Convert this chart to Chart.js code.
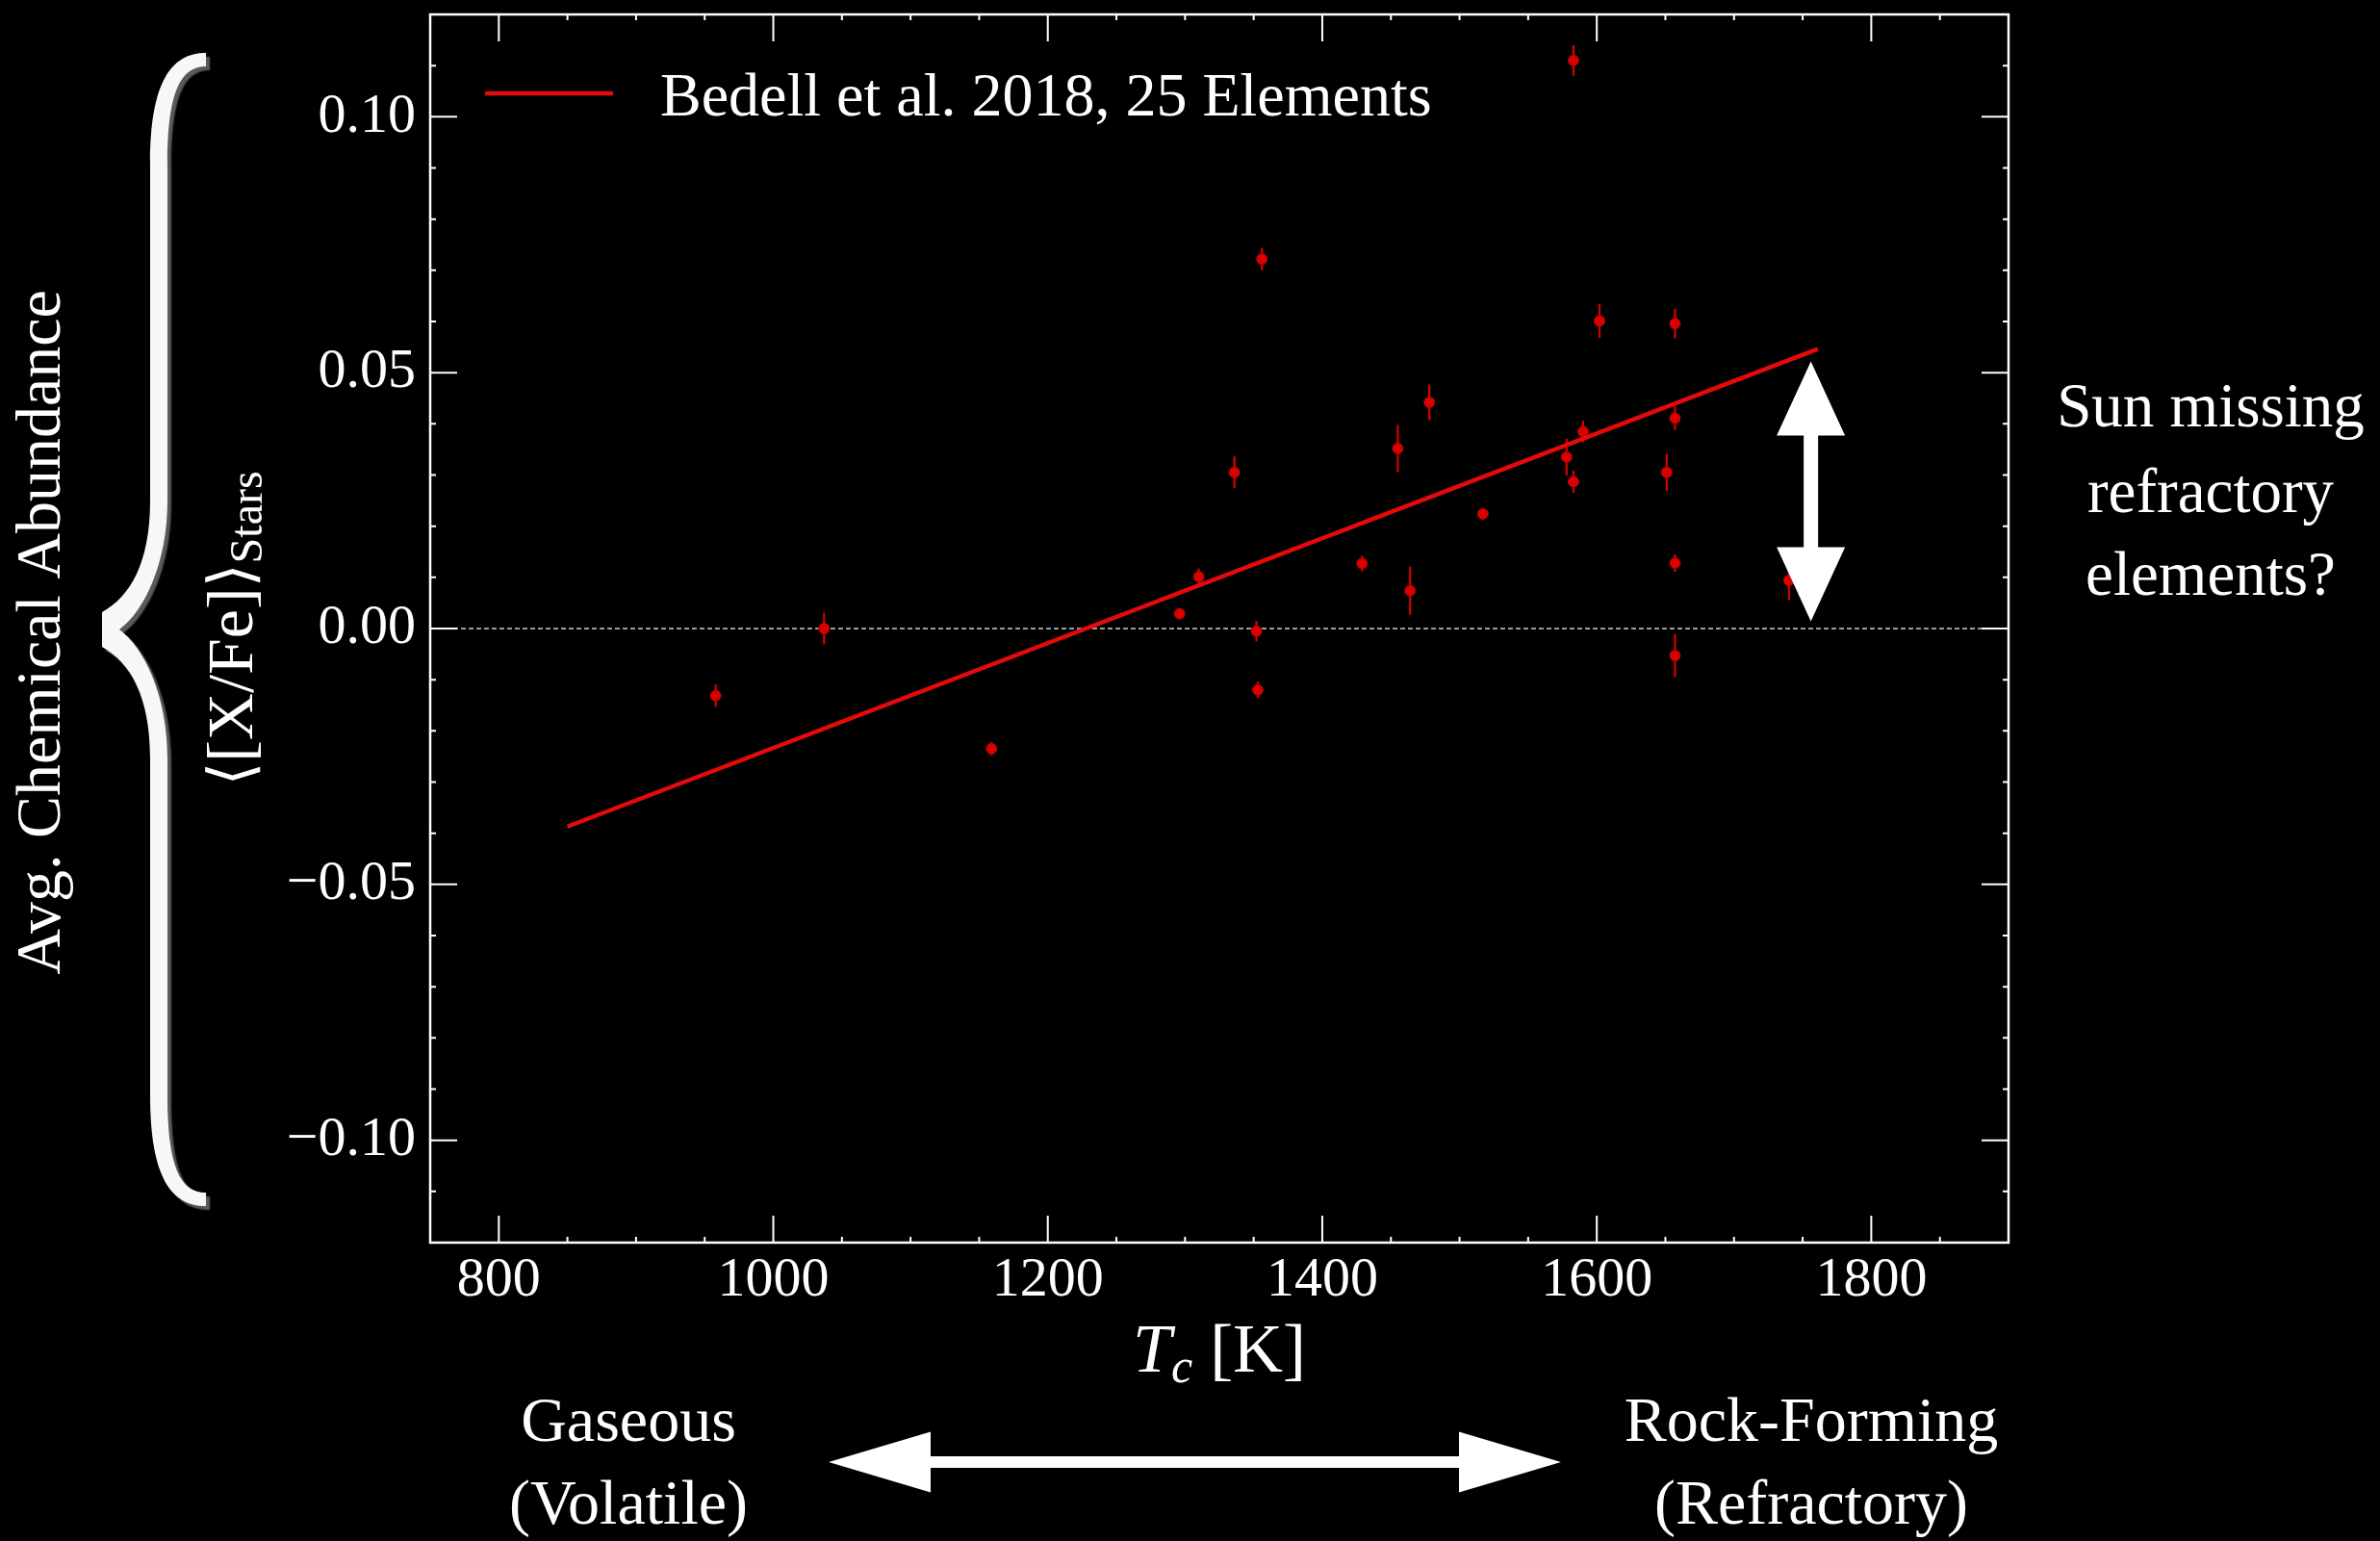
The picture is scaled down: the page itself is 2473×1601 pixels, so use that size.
<!DOCTYPE html>
<html>
<head>
<meta charset="utf-8">
<script src="https://cdn.jsdelivr.net/npm/chart.js@4.4.1/dist/chart.umd.min.js"></script>
<style>
  html, body { margin: 0; padding: 0; background: #000; }
  #wrap { width: 2473px; height: 1601px; }
</style>
</head>
<body>
<div id="wrap"><canvas id="chart"></canvas></div>
<script>
// condensation temperature of each element [K]
const tcValues = [958, 1037, 1159, 1296, 1310, 1336, 1352, 1353, 1356, 1429, 1455, 1464, 1478,
  1517, 1578, 1583, 1583, 1590, 1602, 1651, 1657, 1657, 1657, 1657, 1740];
// <[X/Fe]> averaged over the stars
const meanAbundance = [-0.0131, 0.0000, -0.0235, 0.0029, 0.0101, 0.0305, -0.0005, -0.0120, 0.0722,
  0.0127, 0.0352, 0.0074, 0.0442, 0.0224, 0.0335, 0.0287, 0.1110, 0.0385, 0.0601, 0.0305,
  0.0596, 0.0411, 0.0128, -0.0053, 0.0094];
const abundanceErr = [0.0022, 0.0031, 0.0013, 0.0008, 0.0016, 0.0031, 0.0020, 0.0016, 0.0022,
  0.0015, 0.0046, 0.0047, 0.0035, 0.0010, 0.0036, 0.0022, 0.0030, 0.0021, 0.0033, 0.0036,
  0.0029, 0.0023, 0.0017, 0.0042, 0.0038];

// linear trend (end points)
const fitTc = [850, 1761];
const fitAbundance = [-0.0387, 0.0546];

const xTickValues = [800, 1000, 1200, 1400, 1600, 1800];
const yTickValues = [-0.10, -0.05, 0.00, 0.05, 0.10];

const legendLabel = 'Bedell et al. 2018, 25 Elements';

const SERIF = '"Liberation Serif", "DejaVu Serif", serif';
const lineRed = '#e40a0a';
const pointRed = '#d90000';

function font(size, style, family) {
  return (style ? style + ' ' : '') + size + 'px ' + (family || SERIF);
}

// draw pieces of text (italic / subscript) centred on cx
function drawRuns(ctx, runs, cx, baseline) {
  let total = 0;
  runs.forEach(r => { ctx.font = font(r.size, r.style, r.family); r.w = ctx.measureText(r.text).width; total += r.w; });
  let xx = cx - total / 2;
  ctx.textAlign = 'left';
  ctx.textBaseline = 'alphabetic';
  runs.forEach(r => {
    ctx.font = font(r.size, r.style, r.family);
    ctx.fillText(r.text, xx, baseline + (r.dy || 0));
    xx += r.w;
  });
}

function doubleArrow(ctx, x1, y1, x2, y2, shaft, headW, headL) {
  const len = Math.hypot(x2 - x1, y2 - y1);
  ctx.save();
  ctx.translate(x1, y1);
  ctx.rotate(Math.atan2(y2 - y1, x2 - x1));
  ctx.beginPath();
  ctx.moveTo(0, 0);
  ctx.lineTo(headL, -headW / 2);
  ctx.lineTo(headL, -shaft / 2);
  ctx.lineTo(len - headL, -shaft / 2);
  ctx.lineTo(len - headL, -headW / 2);
  ctx.lineTo(len, 0);
  ctx.lineTo(len - headL, headW / 2);
  ctx.lineTo(len - headL, shaft / 2);
  ctx.lineTo(headL, shaft / 2);
  ctx.lineTo(headL, headW / 2);
  ctx.closePath();
  ctx.fillStyle = '#fff';
  ctx.fill();
  ctx.restore();
}

function drawBrace(ctx) {
  ctx.save();
  ctx.shadowColor = '#5a5a5a';
  ctx.shadowOffsetX = 4;
  ctx.shadowOffsetY = 4;
  ctx.shadowBlur = 1.5;
  ctx.fillStyle = '#f7f7f7';
  ctx.beginPath();
  ctx.moveTo(214, 55);
  ctx.bezierCurveTo(178, 55, 156, 85, 156, 170);
  ctx.lineTo(156, 520);
  ctx.bezierCurveTo(156, 585, 135, 620, 106, 636);
  ctx.lineTo(106, 672);
  ctx.bezierCurveTo(135, 688, 156, 723, 156, 788);
  ctx.lineTo(156, 1138);
  ctx.bezierCurveTo(156, 1223, 178, 1253, 214, 1253);
  ctx.lineTo(214, 1239);
  ctx.bezierCurveTo(188, 1239, 174, 1213, 174, 1138);
  ctx.lineTo(174, 788);
  ctx.bezierCurveTo(174, 723, 150, 673, 124, 654);
  ctx.bezierCurveTo(150, 635, 174, 585, 174, 520);
  ctx.lineTo(174, 170);
  ctx.bezierCurveTo(174, 95, 188, 69, 214, 69);
  ctx.closePath();
  ctx.fill();
  ctx.restore();
}

const decorations = {
  id: 'decorations',
  beforeDatasetsDraw(chart) {
    const { ctx, chartArea: a, scales: { x, y } } = chart;
    ctx.save();
    // dashed zero line
    const y0 = y.getPixelForValue(0);
    ctx.strokeStyle = '#d0d0d0';
    ctx.lineWidth = 1.5;
    ctx.setLineDash([5, 3]);
    ctx.beginPath();
    ctx.moveTo(a.left, y0);
    ctx.lineTo(a.right, y0);
    ctx.stroke();
    ctx.setLineDash([]);
    // error bars
    ctx.strokeStyle = pointRed;
    ctx.lineWidth = 2.2;
    ctx.beginPath();
    tcValues.forEach((t, i) => {
      const px = x.getPixelForValue(t);
      ctx.moveTo(px, y.getPixelForValue(meanAbundance[i] - abundanceErr[i]));
      ctx.lineTo(px, y.getPixelForValue(meanAbundance[i] + abundanceErr[i]));
    });
    ctx.stroke();
    ctx.restore();
  },
  afterDatasetsDraw(chart) {
    const { ctx, scales: { x, y } } = chart;
    const ax = x.getPixelForValue(1756);
    doubleArrow(ctx, ax, y.getPixelForValue(0.0522), ax, y.getPixelForValue(0.0014), 15, 71, 77);
  },
  afterDraw(chart) {
    const { ctx, chartArea: a, scales: { x, y } } = chart;
    ctx.save();
    // frame + inward ticks on all four sides
    ctx.strokeStyle = '#fff';
    ctx.lineWidth = 2.5;
    ctx.strokeRect(a.left, a.top, a.right - a.left, a.bottom - a.top);
    ctx.lineWidth = 2;
    ctx.beginPath();
    for (let v = 800; v < 1900; v += 50) {
      const len = v % 200 === 0 ? 28 : 6;
      const px = x.getPixelForValue(v);
      ctx.moveTo(px, a.bottom); ctx.lineTo(px, a.bottom - len);
      ctx.moveTo(px, a.top); ctx.lineTo(px, a.top + len);
    }
    for (let k = -11; k <= 11; k++) {
      const len = k % 5 === 0 ? 28 : 6;
      const py = y.getPixelForValue(k / 100);
      ctx.moveTo(a.left, py); ctx.lineTo(a.left + len, py);
      ctx.moveTo(a.right, py); ctx.lineTo(a.right - len, py);
    }
    ctx.stroke();

    // legend
    ctx.strokeStyle = lineRed;
    ctx.lineWidth = 4.5;
    ctx.beginPath();
    ctx.moveTo(a.left + 57, 97);
    ctx.lineTo(a.left + 190, 97);
    ctx.stroke();
    ctx.fillStyle = '#fff';
    ctx.font = font(64);
    ctx.textAlign = 'left';
    ctx.textBaseline = 'alphabetic';
    ctx.fillText(chart.data.datasets[1].label, a.left + 239, 120);

    // axis titles
    drawRuns(ctx, [
      { text: 'T', size: 72, style: 'italic' },
      { text: 'c', size: 50, style: 'italic', dy: 11 },
      { text: ' [K]', size: 72 }
    ], (a.left + a.right) / 2, 1425);

    ctx.save();
    ctx.translate(262, y.getPixelForValue(0));
    ctx.rotate(-Math.PI / 2);
    drawRuns(ctx, [
      { text: '\u27E8', size: 64, family: '"DejaVu Serif", "DejaVu Sans", serif' },
      { text: '[X/Fe]', size: 68 },
      { text: '\u27E9', size: 64, family: '"DejaVu Serif", "DejaVu Sans", serif' },
      { text: 'Stars', size: 48, dy: 10 }
    ], 0, 0);
    ctx.restore();

    ctx.save();
    ctx.translate(62, 657);
    ctx.rotate(-Math.PI / 2);
    drawRuns(ctx, [{ text: 'Avg. Chemical Abundance', size: 66 }], 0, 0);
    ctx.restore();

    drawBrace(ctx);

    // right-hand note
    ctx.fillStyle = '#fff';
    ctx.textAlign = 'center';
    ctx.font = font(65);
    ctx.fillText('Sun missing', 2297, 443);
    ctx.fillText('refractory', 2297, 532);
    ctx.fillText('elements?', 2297, 618);

    // bottom labels + arrow
    ctx.font = font(66);
    ctx.fillText('Gaseous', 653, 1497);
    ctx.fillText('(Volatile)', 653, 1583);
    ctx.fillText('Rock-Forming', 1882, 1497);
    ctx.fillText('(Refractory)', 1882, 1583);
    doubleArrow(ctx, 861, 1519, 1622, 1519, 12, 63, 106);
    ctx.restore();
  }
};

Chart.defaults.color = '#fff';
Chart.defaults.font.family = SERIF;

new Chart(document.getElementById('chart'), {
  type: 'scatter',
  data: {
    datasets: [
      {
        label: 'Elements',
        data: tcValues.map((t, i) => ({ x: t, y: meanAbundance[i] })),
        backgroundColor: pointRed,
        borderColor: '#b80000',
        borderWidth: 1,
        pointRadius: 5.5,
        order: 2
      },
      {
        label: legendLabel,
        type: 'line',
        data: fitTc.map((t, i) => ({ x: t, y: fitAbundance[i] })),
        borderColor: lineRed,
        borderWidth: 4.5,
        pointRadius: 0,
        showLine: true,
        fill: false,
        order: 1
      }
    ]
  },
  options: {
    responsive: true,
    maintainAspectRatio: false,
    animation: false,
    layout: { padding: { left: 0, right: 386, top: 15, bottom: 0 } },
    plugins: { legend: { display: false }, tooltip: { enabled: false } },
    scales: {
      x: {
        type: 'linear',
        min: 750,
        max: 1900,
        grid: { display: false, drawTicks: false },
        border: { display: false },
        afterBuildTicks: s => { s.ticks = xTickValues.map(v => ({ value: v })); },
        afterFit: s => { s.height = 310; s.paddingLeft = 0; s.paddingRight = 0; },
        ticks: { color: '#fff', font: { size: 58 }, padding: 5, maxRotation: 0, callback: v => String(v) }
      },
      y: {
        min: -0.12,
        max: 0.12,
        grid: { display: false, drawTicks: false },
        border: { display: false },
        afterBuildTicks: s => { s.ticks = yTickValues.map(v => ({ value: v })); },
        afterFit: s => { s.width = 447; s.paddingTop = 0; s.paddingBottom = 0; },
        ticks: {
          color: '#fff', font: { size: 58 }, padding: 15,
          callback: v => (v < -1e-9 ? '\u2212' : '') + Math.abs(v).toFixed(2)
        }
      }
    }
  },
  plugins: [decorations]
});
</script>
</body>
</html>
